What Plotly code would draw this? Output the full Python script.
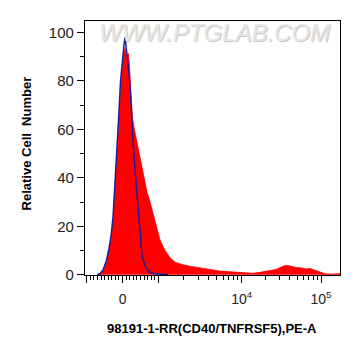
import numpy as np
import plotly.graph_objects as go

# ---- data (raw fluorescence intensity, PE-A) ----
blue_x = [-712, -628, -545, -447, -377, -321, -265, -209, -154, -112, -56, 0, 42, 70,
          98, 145, 209, 251, 293, 349, 405, 433, 489, 545, 600, 670, 768, 908, 1107, 1306]
blue_y = [0, 0.5, 2, 6, 11, 16, 24, 37, 53, 64, 80, 90, 95, 97.9,
          95, 88, 78, 65, 56, 43, 33, 26, 15, 8, 5, 2.5, 1, 0.4, 0.2, 0]

red_x = [-684, -600, -517, -433, -363, -307, -251, -196, -140, -84, -28, 28, 70, 112, 162,
         196, 223, 274, 330, 400, 489, 600, 684, 768, 852, 955, 1048, 1203, 1381, 1586, 1924,
         2399, 3162, 4168, 5493, 7865, 11006, 13880, 17010, 21460, 27070, 32230, 36200,
         40650, 48380, 57600, 64690, 72660, 84030, 97140, 112300, 141700, 173600]
red_y = [0, 0.8, 2.5, 6, 11, 16, 24, 37, 52, 68, 82, 91, 93.4, 90, 91.3,
         86, 78, 65, 60, 55, 49, 40, 34, 30, 25, 18.5, 14.3, 10, 7, 5.2, 4.2,
         3.5, 3.0, 2.2, 1.5, 1.1, 0.7, 0.6, 1.0, 1.6, 2.2, 3.3, 3.9,
         3.6, 3.0, 2.8, 2.4, 2.6, 1.8, 1.0, 0.4, 0.3, 0.5]

x_label_vals = [0, 1e4, 1e5]
x_label_text = ["0", "10<sup>4</sup>", "10<sup>5</sup>"]
x_unlabeled_major = [-1000, 1000]
y_tick_vals = [0, 20, 40, 60, 80, 100]


def logicle(v):
    """Approximate logicle display transform: linear within +-1000, log beyond."""
    v = np.asarray(v, dtype=float)
    a = np.abs(v)
    lin = v / 1000.0
    logp = np.sign(v) * (1.0 + np.interp(np.log10(np.maximum(a, 1000.0)),
                                         [3, 4, 5, 6], [0.0, 2.33, 4.545, 6.76]))
    return np.where(a <= 1000, lin, logp)


minor_raw = ([-k * 100 for k in range(1, 10)] + [k * 100 for k in range(1, 10)] +
             [k * 1000 for k in range(2, 10)] + [k * 10000 for k in range(2, 10)] +
             [200000])

x_range = [logicle(-1050).item(), logicle(173600).item()]

fig = go.Figure()
fig.add_trace(go.Scatter(x=logicle(red_x), y=red_y, mode="lines", fill="tozeroy",
                         line=dict(color="#ff0000", width=0.8), fillcolor="#ff0000",
                         hoverinfo="skip", showlegend=False))
fig.add_trace(go.Scatter(x=logicle(blue_x), y=blue_y, mode="lines",
                         line=dict(color="#1c1c96", width=1.5),
                         hoverinfo="skip", showlegend=False))

fig.update_layout(
    width=353, height=348,
    margin=dict(l=77, r=21, t=13, b=81),
    paper_bgcolor="white", plot_bgcolor="white",
    font=dict(family="Liberation Sans, Arial, sans-serif", color="#222"),
    xaxis=dict(
        range=x_range,
        tickmode="array", tickvals=logicle(x_label_vals).tolist(), ticktext=x_label_text,
        ticks="outside", ticklen=7, tickwidth=1.3, tickcolor="black",
        tickfont=dict(size=14, color="#222"), ticklabelstandoff=4,
        minor=dict(tickmode="array", tickvals=logicle(minor_raw).tolist(),
                   ticks="outside", ticklen=4, tickwidth=1, tickcolor="black"),
        showline=True, linecolor="black", linewidth=1.3, mirror=True,
        showgrid=False, zeroline=False,
    ),
    xaxis2=dict(
        overlaying="x", side="bottom", anchor="y",
        range=x_range,
        tickmode="array", tickvals=logicle(x_unlabeled_major).tolist(),
        showticklabels=False,
        ticks="outside", ticklen=7, tickwidth=1.3, tickcolor="black",
        showline=False, showgrid=False, zeroline=False,
    ),
    yaxis=dict(
        range=[-0.1, 104.7],
        tickmode="array", tickvals=y_tick_vals,
        ticks="outside", ticklen=7, tickwidth=1.3, tickcolor="black",
        tickfont=dict(size=15, color="#222"),
        minor=dict(dtick=10, ticks="outside", ticklen=4, tickwidth=1, tickcolor="black"),
        showline=True, linecolor="black", linewidth=1.3, mirror=True,
        showgrid=False, zeroline=False,
    ),
    annotations=[
        dict(text="WWW.PTGLAB.COM", xref="paper", yref="paper", x=0.506, y=0.953,
             showarrow=False, xanchor="center", yanchor="middle",
             font=dict(size=24, color="#e6e6e6", style="italic",
                       family="Liberation Sans, Arial, sans-serif",
                       shadow="1px 1px 1px #c4c4c4")),
        dict(text="<b>Relative Cell  Number</b>", xref="paper", yref="paper",
             x=-0.2314, y=0.518, textangle=-90, showarrow=False,
             xanchor="center", yanchor="middle",
             font=dict(size=13, color="black")),
        dict(text="<b>98191-1-RR(CD40/TNFRSF5),PE-A</b>", xref="paper", yref="paper",
             x=0.497, y=-0.2087, showarrow=False, xanchor="center", yanchor="middle",
             font=dict(size=13, color="black")),
    ],
)

# an invisible trace keeps the overlay tick axis active
fig.add_trace(go.Scatter(x=[], y=[], xaxis="x2", yaxis="y", showlegend=False,
                         hoverinfo="skip"))

fig.write_html("out.html")
